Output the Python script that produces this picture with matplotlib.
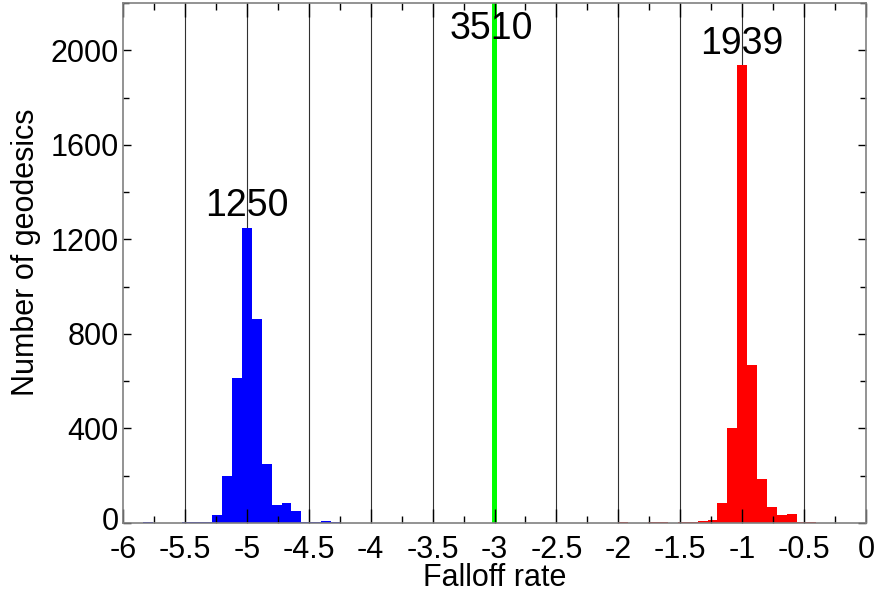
import matplotlib
matplotlib.use("Agg")
import matplotlib.pyplot as plt
import matplotlib.transforms as mtransforms
from matplotlib.ticker import MultipleLocator

plt.rcParams['font.family'] = ['Liberation Sans', 'DejaVu Sans']
plt.rcParams['axes.unicode_minus'] = False

# histogram counts per 0.08-wide bin (bin centres)
bin_width = 0.08
blue_x = [-5.80, -5.48, -5.40, -5.32, -5.24, -5.16, -5.08, -5.00, -4.92,
          -4.84, -4.76, -4.68, -4.60, -4.52, -4.44, -4.36, -4.28]
blue_counts = [3, 4, 4, 5, 34, 198, 613, 1250, 863,
               250, 78, 85, 51, 3, 3, 7, 4]

red_x = [-1.96, -1.72, -1.64, -1.48, -1.40, -1.32, -1.24, -1.16, -1.08,
         -1.00, -0.92, -0.84, -0.76, -0.68, -0.60, -0.52, -0.44]
red_counts = [3, 3, 3, 3, 6, 7, 11, 85, 400,
              1939, 668, 184, 66, 34, 40, 3, 3]

green_x = [-3.0]
green_counts = [3510]
green_width = 0.04

xticks = [-6, -5.5, -5, -4.5, -4, -3.5, -3, -2.5, -2, -1.5, -1, -0.5, 0]
xticklabels = ['-6', '-5.5', '-5', '-4.5', '-4', '-3.5', '-3', '-2.5',
               '-2', '-1.5', '-1', '-0.5', '0']
yticks = [0, 400, 800, 1200, 1600, 2000]
ymax = 2200

fig = plt.figure(figsize=(8.8, 5.92), dpi=100)
ax = fig.add_axes([0.1398, 0.1166, 0.8443, 0.8783])

# vertical guide lines at each labelled tick, behind the bars
for xv in xticks[1:-1]:
    ax.axvline(xv, color='#303030', lw=0.8, zorder=0.5)

ax.bar(blue_x, blue_counts, width=bin_width, color='#0000ff', linewidth=0, zorder=1)
ax.bar(red_x, red_counts, width=bin_width, color='#ff0000', linewidth=0, zorder=1)
ax.bar(green_x, green_counts, width=green_width, color='#00ff00', linewidth=0, zorder=1)

# peak labels
for xs, cs in [(blue_x, blue_counts), (red_x, red_counts), (green_x, green_counts)]:
    i = cs.index(max(cs))
    if cs[i] > ymax:
        ax.annotate(str(cs[i]), (xs[i], ymax), xytext=(-2, -26), textcoords='offset points',
                    ha='center', va='baseline', fontsize=27)
    else:
        ax.annotate(str(cs[i]), (xs[i], cs[i]), xytext=(0, 8), textcoords='offset points',
                    ha='center', va='baseline', fontsize=27)

ax.set_xlim(-6, 0)
ax.set_ylim(0, ymax)
ax.set_xticks(xticks)
ax.set_xticklabels(xticklabels)
ax.set_yticks(yticks)
ax.xaxis.set_minor_locator(MultipleLocator(0.25))
ax.yaxis.set_minor_locator(MultipleLocator(200))
ax.tick_params(which='both', direction='in', top=True, right=True,
               labelsize=22, color='black', width=1)
ax.tick_params(axis='x', which='major', length=10, pad=9)
ax.tick_params(axis='x', which='minor', length=5)
ax.tick_params(axis='y', which='major', length=6, pad=3)
ax.tick_params(axis='y', which='minor', length=4)

# lift the "0" on the y axis a little so it clears the "-6" below it
zero_lbl = ax.get_yticklabels()[0]
zero_lbl.set_transform(zero_lbl.get_transform() +
                       mtransforms.ScaledTranslation(0, 3 / 72, fig.dpi_scale_trans))

for s in ax.spines.values():
    s.set_color('#808080')
    s.set_linewidth(1.2)

ax.set_xlabel('Falloff rate', fontsize=22, labelpad=-2)
ax.set_ylabel('Number of geodesics', fontsize=22)
ax.yaxis.set_label_coords(-0.11, 0.52)

fig.savefig('out.png', dpi=100)
